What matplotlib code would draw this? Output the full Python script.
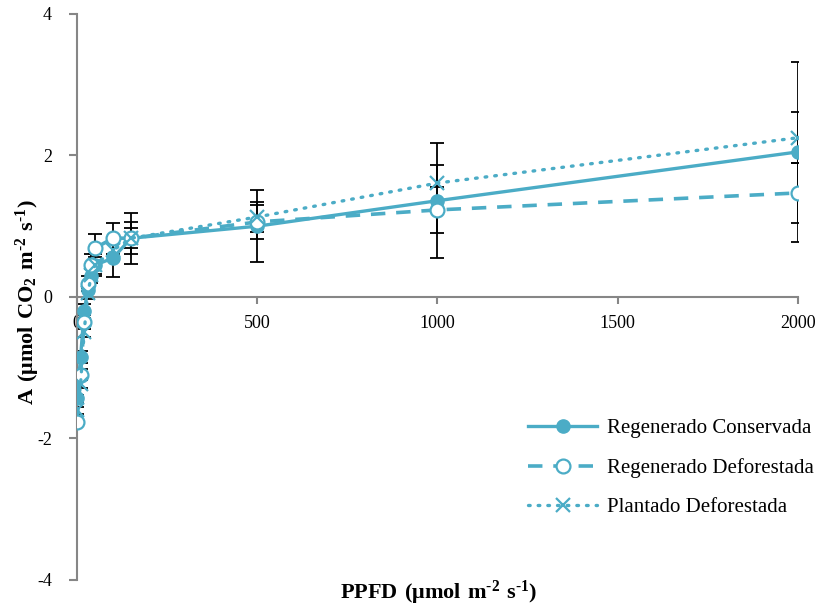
import matplotlib.pyplot as plt

# PPFD levels (umol m-2 s-1)
ppfd = [0, 10, 20, 30, 40, 50, 100, 150, 500, 1000, 2000]

# net assimilation A (umol CO2 m-2 s-1)
reg_cons = [-1.43, -0.85, -0.20, 0.10, 0.30, 0.45, 0.55, 0.83, 1.00, 1.36, 2.05]
reg_cons_err = [0.05, 0.08, 0.10, 0.10, 0.10, 0.15, 0.27, 0.36, 0.51, 0.81, 1.27]

reg_defo = [-1.77, -1.10, -0.35, 0.19, 0.45, 0.69, 0.83, 0.83, 1.06, 1.23, 1.47]
reg_defo_err = [0.05, 0.08, 0.10, 0.10, 0.15, 0.20, 0.22, 0.14, 0.24, 0.33, 0.43]

plant_defo = [-1.60, -1.23, -0.49, 0.05, 0.31, 0.45, 0.66, 0.83, 1.13, 1.61, 2.25]
plant_defo_err = [0.05, 0.05, 0.08, 0.08, 0.10, 0.12, 0.15, 0.23, 0.21, 0.26, 0.36]

labels = ['Regenerado Conservada', 'Regenerado Deforestada', 'Plantado Deforestada']

col = '#4BACC6'
grey = '#868686'

plt.rcParams['font.family'] = ['Liberation Serif', 'DejaVu Serif']
plt.rcParams['axes.unicode_minus'] = False
plt.rcParams['mathtext.fontset'] = 'custom'
plt.rcParams['mathtext.rm'] = 'Liberation Serif'
plt.rcParams['mathtext.bf'] = 'Liberation Serif:bold'

fig = plt.figure(figsize=(8.18, 6.10), dpi=100)
ax = fig.add_axes([0.0941, 0.0492, 0.8814, 0.928])

# error bars first, markers and lines drawn over them
for y, e in [(reg_cons, reg_cons_err), (reg_defo, reg_defo_err), (plant_defo, plant_defo_err)]:
    ax.errorbar(ppfd, y, yerr=e, fmt='none', ecolor='black', elinewidth=1.3,
                capsize=5, capthick=1.3, zorder=2)

ax.plot(ppfd, reg_cons, color=col, lw=2.4, ls='-', marker='o', ms=9.5,
        mfc=col, mec=col, label=labels[0], zorder=3)
ax.plot(ppfd, reg_defo, color=col, lw=2.6, ls=(0, (4, 3)), marker='o', ms=10,
        mfc='white', mec=col, mew=1.6, label=labels[1], zorder=4)
ax.plot(ppfd, plant_defo, color=col, lw=2.4, ls=(0, (0.5, 2.4)),
        dash_capstyle='round', marker='x', ms=10, mec=col, mew=1.6,
        label=labels[2], zorder=5)

ax.set_xlim(0, 2000)
ax.set_ylim(-4, 4)
ax.set_xticks([0, 500, 1000, 1500, 2000])
ax.set_yticks([-4, -2, 0, 2, 4])

ax.spines['top'].set_visible(False)
ax.spines['right'].set_visible(False)
ax.spines['bottom'].set_position(('data', 0))
ax.spines['bottom'].set_color(grey)
ax.spines['left'].set_color(grey)
ax.spines['bottom'].set_linewidth(1.5)
ax.spines['left'].set_linewidth(1.5)
ax.tick_params(axis='x', direction='out', length=5, width=1.5, color=grey,
               labelsize=13, pad=8)
ax.tick_params(axis='y', direction='out', length=6, width=1.5, color=grey,
               labelsize=13, pad=12)

hy = '\u2010'
fig.text(0.034, 0.505,
         r'$\mathbf{A\ (\mu mol\ CO_2\ m^{' + hy + r'2}\ s^{' + hy + r'1})}$',
         rotation=90, ha='center', va='center', fontsize=16)
fig.text(0.536, 0.028,
         r'$\mathbf{PPFD\ (\mu mol\ m^{' + hy + r'2}\ s^{' + hy + r'1})}$',
         ha='center', va='center', fontsize=16)

ax.legend(loc='upper left', bbox_to_anchor=(0.6, 0.318), frameon=False,
          fontsize=15, handlelength=3.3, labelspacing=0.95, handletextpad=0.5)

plt.savefig('out.png', dpi=100)
